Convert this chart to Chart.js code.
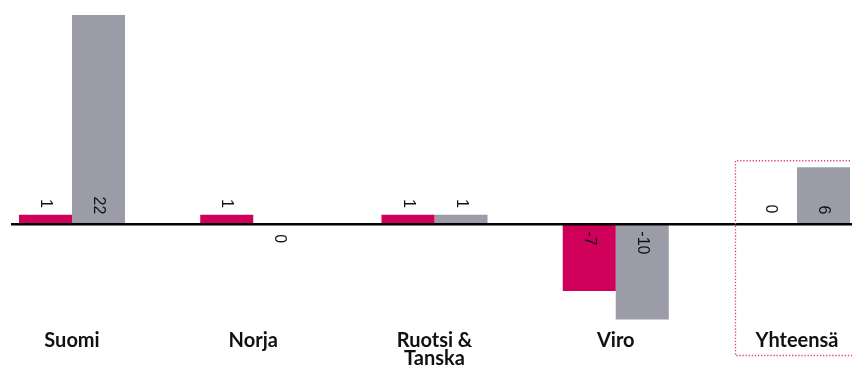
<!DOCTYPE html>
<html>
<head>
<meta charset="utf-8">
<script src="https://cdn.jsdelivr.net/npm/chart.js@4"></script>
<style>
  html, body { margin: 0; padding: 0; background: #fff; }
  #wrap { width: 852px; height: 374px; }
</style>
</head>
<body>
<div id="wrap"><canvas id="myChart" width="852" height="374"></canvas></div>
<script>
// data
var categories = ['Suomi', 'Norja', ['Ruotsi &', 'Tanska'], 'Viro', 'Yhteensä']
var seriesA = [1, 1, 1, -7, 0]
var seriesB = [22, 0, 1, -10, 6]

var red = '#cf0059'
var grey = '#9b9ca7'

// value labels, turned a quarter clockwise, from the base when they fit
var valueLabels = {
    id: 'valueLabels',
    afterDatasetsDraw(chart) {
        const ctx = chart.ctx
        ctx.save()
        ctx.font = '16px "Liberation Sans", Arial, sans-serif'
        ctx.fillStyle = '#111'
        ctx.textBaseline = 'middle'
        chart.data.datasets.forEach((ds, di) => {
            chart.getDatasetMeta(di).data.forEach((bar, i) => {
                const v = ds.data[i]
                const txt = String(v)
                const w = ctx.measureText(txt).width
                const len = Math.abs(bar.base - bar.y)
                let y, align
                if (v > 0) {
                    if (len > w + 12) { y = bar.base - 10; align = 'right' }
                    else { y = bar.y - 7; align = 'right' }
                } else if (v < 0) {
                    y = bar.base + 7; align = 'left'
                } else {
                    // the Norja zero sits under the line, the total one above
                    if (i === 1) { y = bar.base + 10; align = 'left' }
                    else { y = bar.base - 11; align = 'right' }
                }
                ctx.save()
                ctx.translate(bar.x, y)
                ctx.rotate(Math.PI / 2)
                ctx.textAlign = align
                ctx.fillText(txt, 0, 0)
                ctx.restore()
            })
        })
        ctx.restore()
    }
}

// black zero line across the whole width and the dotted frame round the total
var extras = {
    id: 'extras',
    afterDatasetsDraw(chart) {
        const ctx = chart.ctx
        const y0 = chart.scales.y.getPixelForValue(0)
        ctx.save()
        ctx.strokeStyle = '#000'
        ctx.lineWidth = 2.5
        ctx.beginPath()
        ctx.moveTo(11, y0)
        ctx.lineTo(chart.width, y0)
        ctx.stroke()

        const xT = chart.scales.x.getPixelForValue(4)
        const top = chart.scales.y.getPixelForValue(6) - 7
        ctx.strokeStyle = '#e0407a'
        ctx.lineWidth = 1.3
        ctx.setLineDash([1.3, 1.8])
        ctx.beginPath()
        ctx.moveTo(chart.width - 2, top + 0.5)
        ctx.lineTo(xT - 61.5, top + 0.5)
        ctx.lineTo(xT - 61.5, 355.5)
        ctx.lineTo(chart.width, 355.5)
        ctx.stroke()
        ctx.restore()
    }
}

var chart = new Chart(document.getElementById('myChart'), {
    type: 'bar',
    data: {
        labels: categories,
        datasets: [
            { data: seriesA, backgroundColor: red, clip: false },
            { data: seriesB, backgroundColor: grey, clip: false }
        ]
    },
    options: {
        responsive: false,
        animation: false,
        events: [],
        categoryPercentage: 0.585,
        barPercentage: 1,
        layout: { padding: { top: 15, left: 72, right: 55, bottom: 0 } },
        plugins: {
            legend: { display: false },
            tooltip: { enabled: false }
        },
        scales: {
            x: {
                offset: false,
                grid: { display: false, drawTicks: false },
                border: { display: false },
                ticks: {
                    color: '#111',
                    padding: 2,
                    maxRotation: 0,
                    autoSkip: false,
                    font: { family: 'Lato', weight: 'bold', size: 20, lineHeight: 0.93 }
                },
                afterFit: (scale) => { scale.height = 45 }
            },
            y: {
                display: false,
                min: -11,
                max: 22
            }
        }
    },
    plugins: [valueLabels, extras]
})
</script>
</body>
</html>
